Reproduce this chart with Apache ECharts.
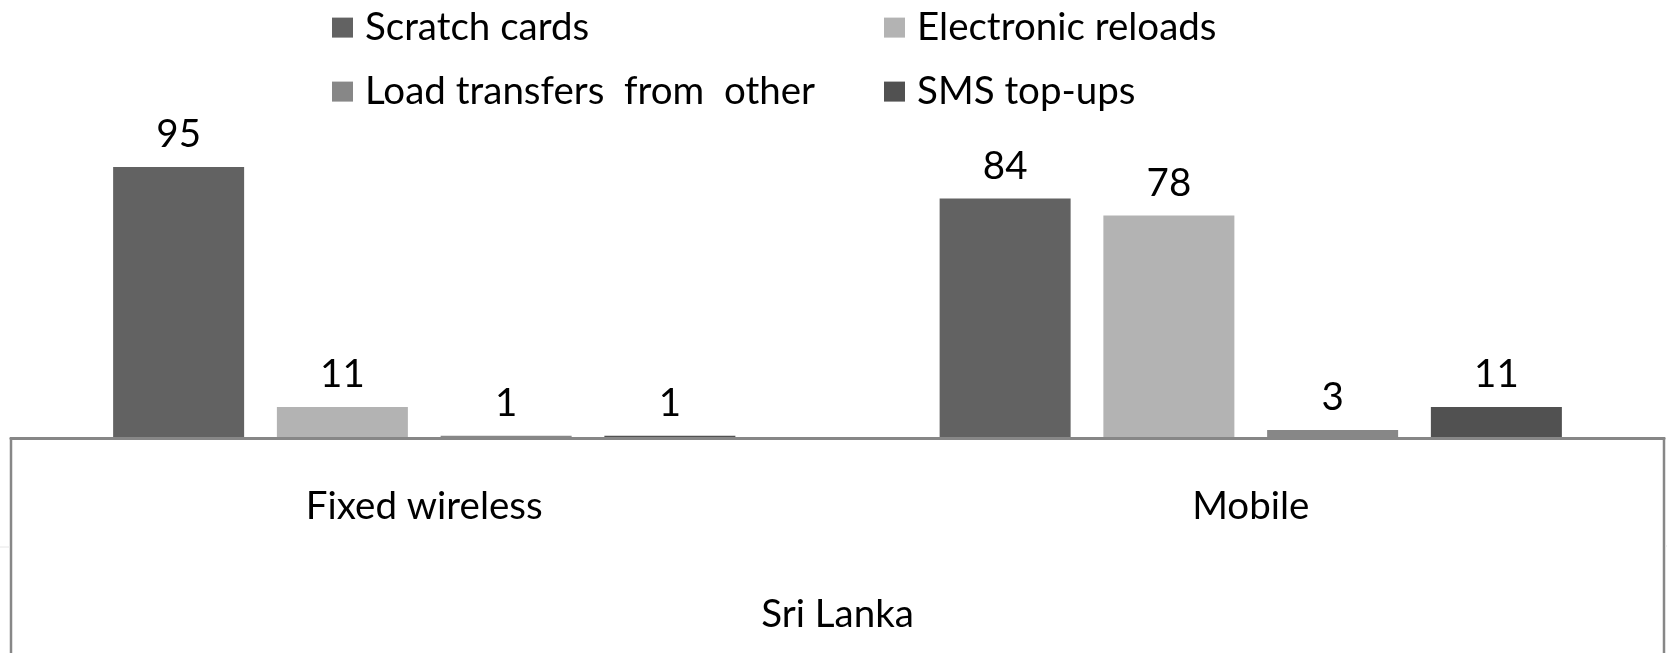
<!DOCTYPE html>
<html>
<head>
<meta charset="utf-8">
<title>Top-up methods, Sri Lanka</title>
<script src="https://cdn.jsdelivr.net/npm/echarts@6/dist/echarts.min.js"></script>
<style>
  html, body { margin: 0; padding: 0; background: #ffffff; }
  #chart { width: 1667px; height: 653px; }
</style>
</head>
<body>
<div id="chart"></div>
<script>
// Service types along the x axis
const categories = ['Fixed wireless', 'Mobile'];
const groupLabel = 'Sri Lanka';

// Series names
const seriesNames = ['Scratch cards', 'Electronic reloads', 'Load transfers  from  other', 'SMS top-ups'];

// Values per series, one per category
const scratchCards = [95, 84];
const electronicReloads = [11, 78];
const loadTransfers = [1, 3];
const smsTopUps = [1, 11];

const seriesValues = [scratchCards, electronicReloads, loadTransfers, smsTopUps];
const seriesColors = ['#626262', '#b3b3b3', '#878787', '#515151'];

const FONT = 'Lato, "Open Sans", sans-serif';
const FONT_SIZE = 38.5;
const AXIS_GREY = '#878787';

const chart = echarts.init(document.getElementById('chart'), null, { renderer: 'canvas' });

const legendText = {
  color: '#000000',
  fontFamily: FONT,
  fontSize: FONT_SIZE,
  lineHeight: 40,
  padding: [0, 0, 0, 7]
};

const option = {
  backgroundColor: '#ffffff',
  animation: false,
  legend: [
    {
      data: [seriesNames[0], seriesNames[2]],
      orient: 'vertical',
      left: 332,
      top: 7.6,
      padding: 0,
      itemWidth: 21,
      itemHeight: 20,
      itemGap: 24,
      icon: 'rect',
      selectedMode: false,
      textStyle: legendText
    },
    {
      data: [seriesNames[1], seriesNames[3]],
      orient: 'vertical',
      left: 884,
      top: 7.6,
      padding: 0,
      itemWidth: 21,
      itemHeight: 20,
      itemGap: 24,
      icon: 'rect',
      selectedMode: false,
      textStyle: legendText
    }
  ],
  grid: {
    left: 11,
    right: 3,
    top: 152.7,
    bottom: 214.5,
    containLabel: false
  },
  xAxis: {
    type: 'category',
    data: categories,
    z: 3,
    axisLine: { show: true, lineStyle: { color: AXIS_GREY, width: 3 } },
    axisTick: { show: false },
    axisLabel: {
      color: '#000000',
      fontFamily: FONT,
      fontSize: FONT_SIZE,
      lineHeight: 40,
      margin: 48
    },
    name: groupLabel,
    nameLocation: 'middle',
    nameGap: 156,
    nameTextStyle: {
      color: '#000000',
      fontFamily: FONT,
      fontSize: FONT_SIZE,
      lineHeight: 40
    },
    splitLine: { show: false }
  },
  yAxis: {
    type: 'value',
    min: 0,
    max: 100,
    show: false,
    splitLine: { show: false }
  },
  series: seriesNames.map((name, i) => ({
    name: name,
    type: 'bar',
    data: seriesValues[i],
    barWidth: 131,
    barGap: '25%',
    itemStyle: { color: seriesColors[i] },
    label: {
      show: true,
      position: 'top',
      distance: 12,
      color: '#000000',
      fontFamily: FONT,
      fontSize: FONT_SIZE,
      lineHeight: 40
    }
  })),
  graphic: [
    // side walls of the category box below the axis line
    {
      type: 'line',
      shape: { x1: 11, y1: 437, x2: 11, y2: 653 },
      style: { stroke: AXIS_GREY, lineWidth: 2.5 },
      silent: true
    },
    {
      type: 'line',
      shape: { x1: 1664, y1: 437, x2: 1664, y2: 653 },
      style: { stroke: AXIS_GREY, lineWidth: 2.5 },
      silent: true
    },
    // faint level-divider ticks outside the box
    {
      type: 'line',
      shape: { x1: 0, y1: 547, x2: 10, y2: 547 },
      style: { stroke: '#e6e6e6', lineWidth: 1 },
      silent: true
    },
    {
      type: 'line',
      shape: { x1: 1665, y1: 546, x2: 1667, y2: 546 },
      style: { stroke: '#e6e6e6', lineWidth: 1 },
      silent: true
    }
  ]
};

chart.setOption(option);
</script>
</body>
</html>
